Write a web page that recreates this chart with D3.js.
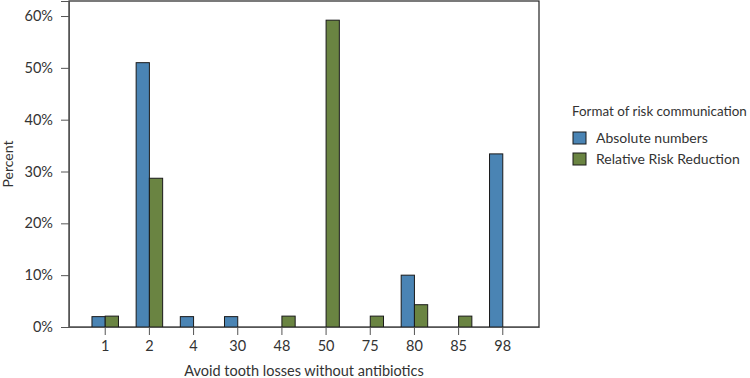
<!DOCTYPE html>
<html>
<head>
<meta charset="utf-8">
<script src="https://cdn.jsdelivr.net/npm/d3@7"></script>
<style>
  body { margin: 0; background: #fff; }
  text { font-family: Lato, "Open Sans", sans-serif; fill: #333; }
</style>
</head>
<body>
<div id="chart"></div>
<script>
const categories = ["1", "2", "4", "30", "48", "50", "75", "80", "85", "98"];
const absoluteNumbers = [2.0, 51.0, 2.0, 2.0, 0, 0, 0, 10.0, 0, 33.4];
const relativeRiskReduction = [2.1, 28.7, 0, 0, 2.1, 59.2, 2.1, 4.3, 2.1, 0];
const seriesNames = ["Absolute numbers", "Relative Risk Reduction"];
const yTicks = [0, 10, 20, 30, 40, 50, 60];

const colors = ["#4a84b4", "#6a8442"];
const series = [absoluteNumbers, relativeRiskReduction];

const width = 750, height = 378;
const margin = { top: 1, right: 211, bottom: 51, left: 69 };
const innerW = width - margin.left - margin.right;
const innerH = height - margin.top - margin.bottom;

const svg = d3.select("#chart").append("svg")
    .attr("width", width)
    .attr("height", height);

const g = svg.append("g")
    .attr("transform", `translate(${margin.left}, ${margin.top})`);

const x = d3.scaleBand()
    .domain(categories)
    .range([0, innerW])
    .paddingInner(0.4)
    .paddingOuter(0.52);

const xSub = d3.scaleBand()
    .domain(seriesNames)
    .range([0, x.bandwidth()]);

const y = d3.scaleLinear()
    .domain([0, 62.9])
    .range([innerH, 0]);

// frame
g.append("rect")
    .attr("x", 0).attr("y", 0)
    .attr("width", innerW).attr("height", innerH)
    .attr("fill", "none")
    .attr("stroke", "#222")
    .attr("stroke-width", 1.2);

// bars
const rows = categories.map((c, i) => ({ cat: c, values: series.map((s, k) => ({ name: seriesNames[k], value: s[i], k })) }));

const groups = g.selectAll(".grp")
    .data(rows)
    .enter()
    .append("g")
    .attr("class", "grp")
    .attr("transform", d => `translate(${x(d.cat)}, 0)`);

groups.selectAll("rect")
    .data(d => d.values.filter(v => v.value > 0))
    .enter()
    .append("rect")
    .attr("x", d => xSub(d.name))
    .attr("y", d => y(d.value))
    .attr("width", xSub.bandwidth())
    .attr("height", d => innerH - y(d.value))
    .attr("fill", d => colors[d.k])
    .attr("stroke", "#1a1a1a")
    .attr("stroke-width", 1);

// axes
const yAxis = d3.axisLeft(y)
    .tickValues(yTicks)
    .tickSize(8)
    .tickPadding(8)
    .tickFormat(d => d + "%");

const yg = g.append("g").call(yAxis);
yg.select(".domain").attr("stroke", "#555");
yg.selectAll(".tick line").attr("stroke", "#555");
yg.selectAll("text").attr("font-size", 14.5).attr("fill", "#333");

const xAxis = d3.axisBottom(x)
    .tickSize(8)
    .tickPadding(6)
    .tickSizeOuter(0);

const xg = g.append("g")
    .attr("transform", `translate(0, ${innerH})`)
    .call(xAxis);
xg.select(".domain").attr("stroke", "#555");
xg.selectAll(".tick line").attr("stroke", "#555");
xg.selectAll("text").attr("font-size", 14.5).attr("fill", "#333");

// axis titles
svg.append("text")
    .attr("transform", `translate(13, ${margin.top + innerH / 2}) rotate(-90)`)
    .attr("text-anchor", "middle")
    .attr("font-size", 14)
    .text("Percent");

svg.append("text")
    .attr("x", margin.left + innerW / 2)
    .attr("y", 376)
    .attr("text-anchor", "middle")
    .attr("font-size", 14.5)
    .text("Avoid tooth losses without antibiotics");

// legend
const legend = svg.append("g").attr("transform", "translate(572, 0)");
const legendTitle = legend.append("text")
    .attr("x", 0).attr("y", 116)
    .attr("font-size", 14)
    .text("Format of risk communication");
// shrink the title so it fits before the right edge
const tw = legendTitle.node().getComputedTextLength();
if (tw > 175) legendTitle.attr("font-size", 14 * 175 / tw);

const items = legend.selectAll(".item")
    .data(seriesNames)
    .enter()
    .append("g")
    .attr("class", "item")
    .attr("transform", (d, i) => `translate(1, ${132 + i * 21})`);

items.append("rect")
    .attr("width", 13).attr("height", 12)
    .attr("fill", (d, i) => colors[i])
    .attr("stroke", "#1a1a1a");

items.append("text")
    .attr("x", 23).attr("y", 11)
    .attr("font-size", 14)
    .text(d => d);
</script>
</body>
</html>
